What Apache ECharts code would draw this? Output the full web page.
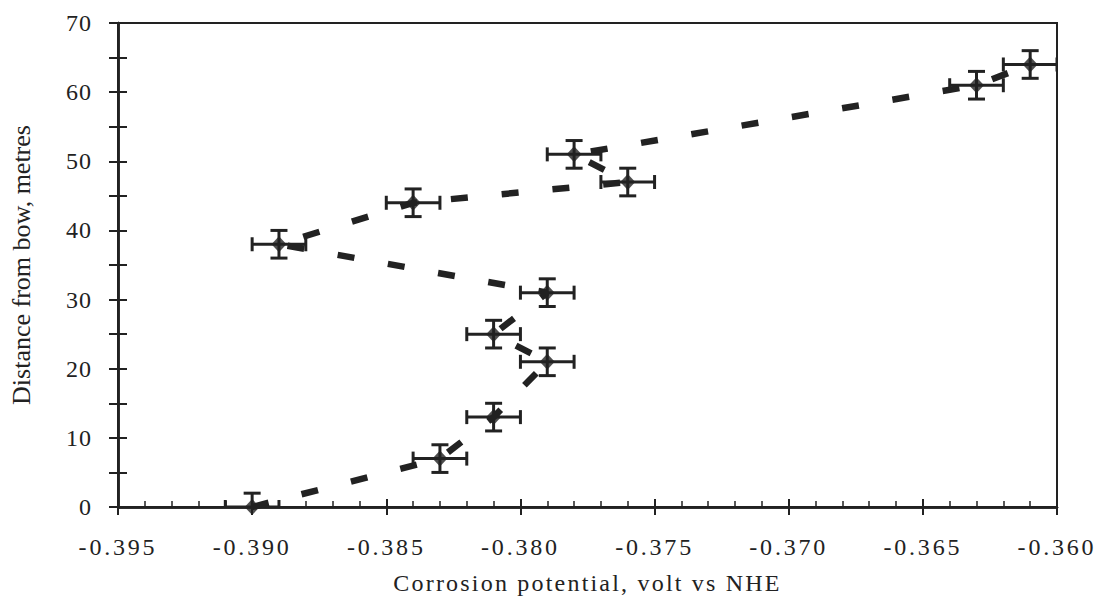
<!DOCTYPE html>
<html>
<head>
<meta charset="utf-8">
<script src="https://cdn.jsdelivr.net/npm/echarts@6/dist/echarts.min.js"></script>
<style>
html,body{margin:0;padding:0;background:#fff;}
#chart{width:1095px;height:599px;}
</style>
</head>
<body>
<div id="chart"></div>
<script>
// Data (ordered by distance from bow)
const potential = [-0.390, -0.383, -0.381, -0.379, -0.381, -0.379, -0.389, -0.384, -0.376, -0.378, -0.363, -0.361];
const distance  = [0, 7, 13, 21, 25, 31, 38, 44, 47, 51, 61, 64];
const potentialErr = [0.001, 0.001, 0.001, 0.001, 0.001, 0.001, 0.001, 0.001, 0.001, 0.001, 0.001, 0.001];
const distanceErr  = [2, 2, 2, 2, 2, 2, 2, 2, 2, 2, 2, 2];
const xTitle = 'Corrosion potential, volt vs NHE';
const yTitle = 'Distance from bow, metres';

const ink = '#222';
const fontFam = '"Liberation Serif", "Times New Roman", serif';

const points = potential.map((x, i) => [x, distance[i]]);
const errRows = potential.map((x, i) => [x, distance[i], potentialErr[i], distanceErr[i]]);

const chart = echarts.init(document.getElementById('chart'), null, {renderer: 'svg'});

const axisBaseX = {
  type: 'value', min: -0.395, max: -0.360, interval: 0.005,
  position: 'bottom', splitLine: {show: false},
  axisLine: {show: true, lineStyle: {color: ink, width: 2.5}}
};
const axisBaseY = {
  type: 'value', min: 0, max: 70, interval: 5,
  position: 'left', splitLine: {show: false},
  axisLine: {show: true, lineStyle: {color: ink, width: 2.5}}
};

chart.setOption({
  backgroundColor: '#fff',
  animation: false,
  grid: {left: 118, right: 38, top: 23, bottom: 92, containLabel: false, outerBoundsMode: 'none',
    show: true, borderColor: ink, borderWidth: 2, backgroundColor: 'transparent'},
  xAxis: [
    Object.assign({}, axisBaseX, {
      name: xTitle, nameLocation: 'middle', nameGap: 64,
      nameTextStyle: {fontFamily: fontFam, fontSize: 24, color: ink},
      axisTick: {show: true, inside: false, length: 8, lineStyle: {color: ink, width: 2}},
      axisLabel: {show: true, margin: 28, fontFamily: fontFam, fontSize: 24, color: ink,
        showMinLabel: true, showMaxLabel: true,
        formatter: v => v.toFixed(3)}
    }),
    Object.assign({}, axisBaseX, {
      axisTick: {show: true, inside: true, length: 8, lineStyle: {color: ink, width: 2}},
      minorTick: {show: true, splitNumber: 5, length: 6, lineStyle: {color: ink, width: 1.5}},
      axisLabel: {show: false}
    })
  ],
  yAxis: [
    Object.assign({}, axisBaseY, {
      name: yTitle, nameLocation: 'middle', nameGap: 84, nameRotate: 90,
      nameTextStyle: {fontFamily: fontFam, fontSize: 26, color: ink},
      axisTick: {show: true, inside: false, length: 9, lineStyle: {color: ink, width: 2}},
      axisLabel: {show: true, margin: 26, fontFamily: fontFam, fontSize: 24, color: ink,
        showMinLabel: true, showMaxLabel: true,
        formatter: v => (Math.round(v) % 10 === 0 ? String(Math.round(v)) : '')}
    }),
    Object.assign({}, axisBaseY, {
      axisTick: {show: true, inside: true, length: 9, lineStyle: {color: ink, width: 2}},
      axisLabel: {show: false}
    })
  ],
  series: [
    {
      type: 'line', xAxisIndex: 0, yAxisIndex: 0, data: points,
      showSymbol: false, symbol: 'none', smooth: false, z: 2,
      lineStyle: {color: ink, width: 6.5, type: [17, 34], cap: 'butt'}
    },
    {
      type: 'custom', xAxisIndex: 0, yAxisIndex: 0, data: errRows, clip: true, z: 3,
      encode: {x: 0, y: 1},
      renderItem: function (params, api) {
        const x = api.value(0), y = api.value(1), ex = api.value(2), ey = api.value(3);
        const L = api.coord([x - ex, y]), R = api.coord([x + ex, y]);
        const T = api.coord([x, y + ey]), B = api.coord([x, y - ey]);
        const capH = 7, capW = 8.5;
        const st = {stroke: ink, lineWidth: 3, fill: null};
        const ln = (x1, y1, x2, y2) => ({type: 'line', shape: {x1, y1, x2, y2}, style: st});
        return {type: 'group', children: [
          ln(L[0], L[1], R[0], R[1]),
          ln(T[0], T[1], B[0], B[1]),
          ln(L[0], L[1] - capH, L[0], L[1] + capH),
          ln(R[0], R[1] - capH, R[0], R[1] + capH),
          ln(T[0] - capW, T[1], T[0] + capW, T[1]),
          ln(B[0] - capW, B[1], B[0] + capW, B[1])
        ]};
      }
    },
    {
      type: 'scatter', xAxisIndex: 0, yAxisIndex: 0, data: points, z: 4,
      symbol: 'diamond', symbolSize: [15, 16],
      itemStyle: {color: ink}
    }
  ]
});

// Letter spacing like the scanned original (typographic styling of the SVG text)
function spaceText() {
  document.querySelectorAll('#chart svg text').forEach(t => {
    const s = t.textContent;
    let ls = 0;
    if (/^-0\.\d{3}$/.test(s)) ls = 2.8;
    else if (/^\d+$/.test(s)) ls = 1;
    else if (s === xTitle) ls = 2.2;
    if (ls) t.setAttribute('letter-spacing', ls + 'px');
  });
}
chart.getZr().refreshImmediately();
spaceText();
chart.on('finished', spaceText);
</script>
</body>
</html>
